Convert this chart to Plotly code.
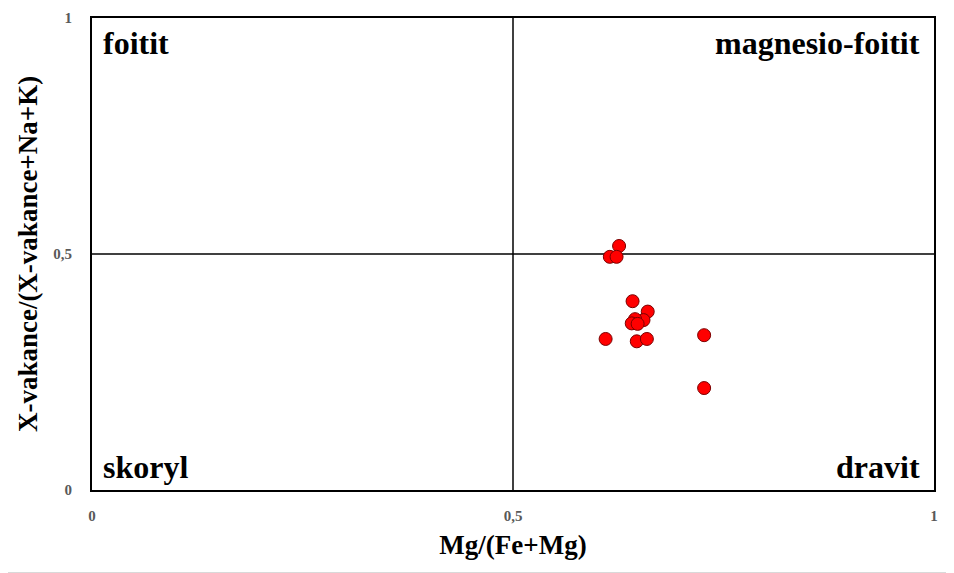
import plotly.graph_objects as go

mg_ratio = [0.626, 0.615, 0.623, 0.642, 0.660, 0.655, 0.645, 0.641, 0.648, 0.610, 0.647, 0.659, 0.727, 0.727]
x_vac = [0.517, 0.494, 0.494, 0.400, 0.378, 0.360, 0.362, 0.353, 0.352, 0.320, 0.315, 0.320, 0.328, 0.216]

tick_vals = [0, 0.5, 1]
tick_text = ["<b>0</b>", "<b>0,5</b>", "<b>1</b>"]

quadrants = [
    ("foitit", 0.0, 1.0, "left", "top"),
    ("magnesio-foitit", 1.0, 1.0, "right", "top"),
    ("skoryl", 0.0, 0.0, "left", "bottom"),
    ("dravit", 1.0, 0.0, "right", "bottom"),
]

FONT = "Liberation Serif"

fig = go.Figure()
fig.add_trace(go.Scatter(
    x=mg_ratio, y=x_vac, mode="markers",
    marker=dict(size=13, color="#ff0000", line=dict(color="#7a0000", width=1)),
    showlegend=False, hoverinfo="x+y",
))

for val in [0.5]:
    fig.add_shape(type="line", x0=val, x1=val, y0=0, y1=1, xref="x", yref="y",
                  line=dict(color="black", width=1.5), layer="below")
    fig.add_shape(type="line", x0=0, x1=1, y0=val, y1=val, xref="x", yref="y",
                  line=dict(color="black", width=1.5), layer="below")

for text, xv, yv, xa, ya in quadrants:
    fig.add_annotation(
        x=xv, y=yv, xref="x", yref="y", text="<b>" + text + "</b>", showarrow=False,
        xanchor=xa, yanchor=ya,
        xshift=9 if xa == "left" else -12,
        yshift=-5 if ya == "top" else 3,
        font=dict(family=FONT, size=32, color="black"),
    )

axis_common = dict(
    range=[0, 1], tickvals=tick_vals, ticktext=tick_text, automargin=False,
    showgrid=False, zeroline=False, showline=True, linecolor="black",
    linewidth=2, mirror=True, ticks="outside", tickcolor="rgba(0,0,0,0)",
    tickfont=dict(family=FONT, size=15, color="#595959"),
)

fig.update_xaxes(**axis_common, ticklen=11,
                 title=dict(text="<b>Mg/(Fe+Mg)</b>", standoff=12,
                            font=dict(family=FONT, size=27, color="black")))
fig.update_yaxes(**axis_common, ticklen=15,
                 title=dict(text="<b>X-vakance/(X-vakance+Na+K)</b>", standoff=8,
                            font=dict(family=FONT, size=27, color="black")))

fig.update_layout(
    width=946, height=565,
    margin=dict(l=84, r=20, t=10, b=83),
    plot_bgcolor="white", paper_bgcolor="white",
    font=dict(family=FONT),
)
# light frame on the right and bottom edges of the picture
fig.add_shape(type="line", xref="paper", yref="paper",
              x0=1 + 19.5 / 842, x1=1 + 19.5 / 842, y0=-82.5 / 472, y1=1 + 10 / 472,
              line=dict(color="#d9d9d9", width=1))
fig.add_shape(type="line", xref="paper", yref="paper",
              x0=-84 / 842, x1=1 + 19.5 / 842, y0=-82.5 / 472, y1=-82.5 / 472,
              line=dict(color="#d9d9d9", width=1))

fig.write_html("out.html")
